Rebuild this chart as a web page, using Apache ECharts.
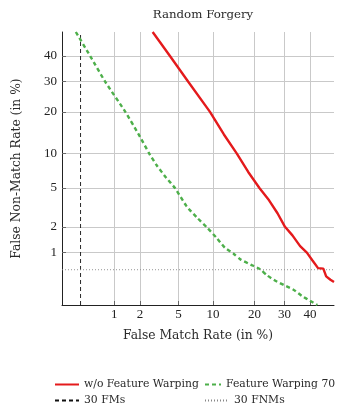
<!DOCTYPE html>
<html>
<head>
<meta charset="utf-8">
<script src="https://cdn.jsdelivr.net/npm/echarts@6/dist/echarts.min.js"></script>
<style>
  html, body { margin: 0; padding: 0; background: #fff; }
  #chart { width: 342px; height: 406px; }
</style>
</head>
<body>
<div id="chart"></div>
<script>
// DET curve, both axes on a normal-deviate (probit) scale, values in %
const tickLabels = [1, 2, 5, 10, 20, 30, 40];
const axisRange = [0.2, 50];

// [FMR %, FNMR %]
const withoutWarping = [
  [2.75, 50], [4.13, 40], [6.15, 30], [9.47, 20], [12.2, 14], [15.2, 10],
  [18.2, 7], [21.5, 5], [24.6, 3.8], [27.5, 2.8], [30.2, 2.0], [33, 1.6],
  [36, 1.2], [38.7, 1.0], [41, 0.8], [43.3, 0.64], [45.5, 0.63],
  [46.7, 0.5], [48.5, 0.45], [50, 0.42]
];
const featureWarping70 = [
  [0.315, 50], [0.494, 40], [0.774, 30], [1.36, 20], [2.0, 13.5], [2.53, 10],
  [3.03, 8.0], [3.8, 6.2], [4.62, 5.0], [5.95, 3.3], [7.4, 2.5], [9.0, 1.95],
  [10.7, 1.5], [12.4, 1.15], [14.4, 0.97], [16.2, 0.82],
  [18.9, 0.71], [21.7, 0.62], [23.8, 0.52], [26.6, 0.44], [29.9, 0.38],
  [33.4, 0.33], [36.7, 0.27], [40, 0.23], [43, 0.2]
];
const fm30 = 0.366;   // 30 FMs
const fnm30 = 0.61;   // 30 FNMs

// inverse normal CDF (Acklam)
function probit(p) {
  const a = [-3.969683028665376e+01, 2.209460984245205e+02, -2.759285104469687e+02, 1.383577518672690e+02, -3.066479806614716e+01, 2.506628277459239e+00];
  const b = [-5.447609879822406e+01, 1.615858368580409e+02, -1.556989798598866e+02, 6.680131188771972e+01, -1.328068155288572e+01];
  const c = [-7.784894002430293e-03, -3.223964580411365e-01, -2.400758277161838e+00, -2.549732539343734e+00, 4.374664141464968e+00, 2.938163982698783e+00];
  const d = [7.784695709041462e-03, 3.224671290700398e-01, 2.445134137142996e+00, 3.754408661907416e+00];
  const pl = 0.02425;
  let q, r;
  if (p < pl) {
    q = Math.sqrt(-2 * Math.log(p));
    return (((((c[0]*q+c[1])*q+c[2])*q+c[3])*q+c[4])*q+c[5]) / ((((d[0]*q+d[1])*q+d[2])*q+d[3])*q+1);
  } else if (p <= 1 - pl) {
    q = p - 0.5; r = q * q;
    return (((((a[0]*r+a[1])*r+a[2])*r+a[3])*r+a[4])*r+a[5])*q / (((((b[0]*r+b[1])*r+b[2])*r+b[3])*r+b[4])*r+1);
  }
  q = Math.sqrt(-2 * Math.log(1 - p));
  return -(((((c[0]*q+c[1])*q+c[2])*q+c[3])*q+c[4])*q+c[5]) / ((((d[0]*q+d[1])*q+d[2])*q+d[3])*q+1);
}
const pc = v => probit(v / 100);
const toDet = arr => arr.map(p => [pc(p[0]), pc(p[1])]);

const tickVals = tickLabels.map(pc);
const fmtTick = v => {
  let best = 0;
  tickVals.forEach((t, i) => { if (Math.abs(t - v) < Math.abs(tickVals[best] - v)) best = i; });
  return String(tickLabels[best]);
};

const serif = '"DejaVu Serif", "Liberation Serif", serif';
const numFont = '"Liberation Serif", serif';
const txt = { fontFamily: serif, fontSize: 10.8, color: '#2a2a2a' };

const chart = echarts.init(document.getElementById('chart'), null, { renderer: 'canvas' });

function axis(name, gap, labelMargin) {
  return {
    type: 'value',
    min: pc(axisRange[0]),
    max: pc(axisRange[1]),
    name: name,
    nameLocation: 'middle',
    nameGap: gap,
    nameTextStyle: { fontFamily: serif, fontSize: 12.3, color: '#2a2a2a' },
    axisLine: { show: true, onZero: false, lineStyle: { color: '#222', width: 1 } },
    axisTick: { show: true, inside: true, length: 4, customValues: tickVals, lineStyle: { color: '#666' } },
    axisLabel: { customValues: tickVals, formatter: fmtTick, fontFamily: numFont, fontSize: 13, color: '#222', margin: labelMargin },
    splitLine: { show: true, lineStyle: { color: '#c9c9c9', width: 1 } }
  };
}

const legendBase = {
  orient: 'horizontal',
  itemHeight: 10,
  padding: 0,
  itemGap: 4,
  textStyle: txt,
  itemStyle: { opacity: 0 },
  selectedMode: false
};

const option = {
  animation: false,
  title: {
    text: 'Random Forgery',
    left: 198,
    textAlign: 'center',
    top: 4,
    textStyle: { fontFamily: serif, fontSize: 11.8, fontWeight: 'normal', color: '#2a2a2a' }
  },
  grid: { left: 62, right: 8, top: 32, bottom: 101 },
  xAxis: axis('False Match Rate (in %)', 25, 3),
  yAxis: axis('False Non-Match Rate (in %)', 39, 5),
  legend: [
    Object.assign({}, legendBase, { data: ['w/o Feature Warping'], left: 54, top: 379, itemWidth: 24 }),
    Object.assign({}, legendBase, { data: ['Feature Warping 70'], left: 204, top: 379, itemWidth: 16 }),
    Object.assign({}, legendBase, { data: ['30 FMs'], left: 54, top: 395, itemWidth: 24 }),
    Object.assign({}, legendBase, { data: ['30 FNMs'], left: 204, top: 395, itemWidth: 24 })
  ],
  series: [
    {
      name: '30 FMs', type: 'line', symbol: 'none', silent: true,
      data: toDet([[fm30, axisRange[0]], [fm30, axisRange[1]]]),
      lineStyle: { color: '#111', width: 0.9, type: [4, 3] }, itemStyle: { color: '#111' }
    },
    {
      name: '30 FNMs', type: 'line', symbol: 'none', silent: true,
      data: toDet([[axisRange[0], fnm30], [axisRange[1], fnm30]]),
      lineStyle: { color: '#888', width: 0.9, type: [1, 2] }, itemStyle: { color: '#888' }
    },
    {
      name: 'Feature Warping 70', type: 'line', symbol: 'none', smooth: 0.2,
      data: toDet(featureWarping70),
      lineStyle: { color: '#4daf4a', width: 2.4, type: [4, 3] }, itemStyle: { color: '#4daf4a' }
    },
    {
      name: 'w/o Feature Warping', type: 'line', symbol: 'none',
      data: toDet(withoutWarping),
      lineStyle: { color: '#e41a1c', width: 2.4 }, itemStyle: { color: '#e41a1c' }
    }
  ]
};
chart.setOption(option);
</script>
</body>
</html>
